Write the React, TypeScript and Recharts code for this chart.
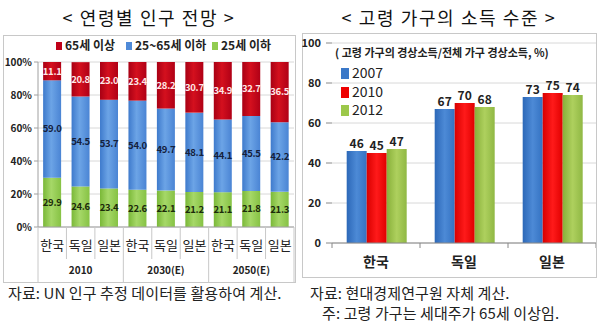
import { BarChart, Bar, XAxis, YAxis, CartesianGrid, Legend, LabelList } from 'recharts';

const FONT = "'Noto Sans CJK KR', 'Noto Sans', sans-serif";

// left: population share by age group (%)
const POP_COUNTRIES = ['한국', '독일', '일본', '한국', '독일', '일본', '한국', '독일', '일본'];
const POP_PERIODS = ['2010', '2010', '2010', '2030(E)', '2030(E)', '2030(E)', '2050(E)', '2050(E)', '2050(E)'];
const POP_UNDER25 = [29.9, 24.6, 23.4, 22.6, 22.1, 21.2, 21.1, 21.8, 21.3];
const POP_25TO65 = [59.0, 54.5, 53.7, 54.0, 49.7, 48.1, 44.1, 45.5, 42.2];
const POP_OVER65 = [11.1, 20.8, 23.0, 23.4, 28.2, 30.7, 34.9, 32.7, 36.5];
const POP_TICKS = [0, 20, 40, 60, 80, 100];

// right: elderly household income vs all households (%)
const INCOME_COUNTRIES = ['한국', '독일', '일본'];
const INCOME_2007 = [46, 67, 73];
const INCOME_2010 = [45, 70, 75];
const INCOME_2012 = [47, 68, 74];
const INCOME_TICKS = [0, 20, 40, 60, 80, 100];

const popData = POP_COUNTRIES.map((c, i) => ({
  country: c,
  period: POP_PERIODS[i],
  young: POP_UNDER25[i],
  middle: POP_25TO65[i],
  old: POP_OVER65[i],
}));

const incomeData = INCOME_COUNTRIES.map((c, i) => ({
  country: c,
  y2007: INCOME_2007[i],
  y2010: INCOME_2010[i],
  y2012: INCOME_2012[i],
}));

const POP_SERIES = [
  { key: 'old', name: '65세 이상', swatch: '#c00018' },
  { key: 'middle', name: '25~65세 이하', swatch: '#4f8ad8' },
  { key: 'young', name: '25세 이하', swatch: '#92cc50' },
];

const INCOME_SERIES = [
  { key: 'y2007', name: '2007', swatch: '#3a78c8' },
  { key: 'y2010', name: '2010', swatch: '#ee0000' },
  { key: 'y2012', name: '2012', swatch: '#9cc84a' },
];

function PopTick(props: any) {
  const { x, y, index, payload } = props;
  const half = payload?.offset ?? 14.2;
  const period = POP_PERIODS[index];
  const start = POP_PERIODS.indexOf(period);
  const end = POP_PERIODS.lastIndexOf(period);
  const isStart = index === start;
  const isLast = index === POP_PERIODS.length - 1;
  const isMid = index === Math.floor((start + end) / 2);
  return (
    <g>
      <line x1={x - half} x2={x - half} y1={y} y2={y + (isStart ? 56 : 32)} stroke="#c8c8c8" />
      {isLast && <line x1={x + half} x2={x + half} y1={y} y2={y + 56} stroke="#c8c8c8" />}
      <text x={x} y={y + 23} textAnchor="middle" fontSize={13} fill="#222" fontFamily={FONT}>
        {POP_COUNTRIES[index]}
      </text>
      {isMid && (
        <text x={x + (end - start) % 2 * half} y={y + 47} textAnchor="middle" fontSize={10} fontWeight="bold" fill="#222" fontFamily={FONT}>
          {period}
        </text>
      )}
    </g>
  );
}

function IncomeTick(props: any) {
  const { x, y, index, payload } = props;
  const half = payload?.offset ?? 44;
  const isLast = index === INCOME_COUNTRIES.length - 1;
  return (
    <g>
      <line x1={x - half} x2={x - half} y1={y} y2={y + 5} stroke="#888" />
      {isLast && <line x1={x + half} x2={x + half} y1={y} y2={y + 5} stroke="#888" />}
      <text x={x} y={y + 24} textAnchor="middle" fontSize={14} fontWeight="bold" fill="#222" fontFamily={FONT}>
        {INCOME_COUNTRIES[index]}
      </text>
    </g>
  );
}

function PopLegend() {
  const lefts = [56, 126, 212];
  return (
    <div style={{ position: 'relative', height: 16, fontFamily: FONT, fontSize: 12, fontWeight: 'bold', color: '#222' }}>
      {POP_SERIES.map((s, i) => (
        <span key={s.key} style={{ position: 'absolute', left: lefts[i], top: 0, whiteSpace: 'nowrap', lineHeight: '16px' }}>
          <span style={{ display: 'inline-block', width: 6, height: 8, background: s.swatch, marginRight: 3, verticalAlign: 0 }} />
          {s.name}
        </span>
      ))}
    </div>
  );
}

function IncomeLegend() {
  return (
    <div style={{ fontFamily: FONT, color: '#222', textAlign: 'left' }}>
      <div style={{ fontSize: 11, fontWeight: 'bold', lineHeight: '16px', marginBottom: 3 }}>
        ( 고령 가구의 경상소득/전체 가구 경상소득, %)
      </div>
      {INCOME_SERIES.map((s) => (
        <div key={s.key} style={{ fontSize: 14, lineHeight: '18.5px', paddingLeft: 6 }}>
          <span style={{ display: 'inline-block', width: 8, height: 11, background: s.swatch, marginRight: 3, verticalAlign: -1 }} />
          {s.name}
        </div>
      ))}
    </div>
  );
}

export default function App() {
  const labelOne = (v: any) => Number(v).toFixed(1);
  const popLabel = { fontSize: 9.5, fontWeight: 'bold', fontFamily: FONT, letterSpacing: -0.3 };
  return (
    <div style={{ position: 'absolute', left: 0, top: 0, width: 600, height: 325, background: '#fff', fontFamily: FONT }}>
      <svg width={0} height={0} style={{ position: 'absolute' }}>
        <defs>
          <linearGradient id="gRedL" x1="0" y1="0" x2="1" y2="0">
            <stop offset="0%" stopColor="#a80014" />
            <stop offset="45%" stopColor="#d4101e" />
            <stop offset="100%" stopColor="#b00016" />
          </linearGradient>
          <linearGradient id="gBlueL" x1="0" y1="0" x2="1" y2="0">
            <stop offset="0%" stopColor="#3e7acc" />
            <stop offset="45%" stopColor="#6ca4e6" />
            <stop offset="100%" stopColor="#4a84d4" />
          </linearGradient>
          <linearGradient id="gGreenL" x1="0" y1="0" x2="1" y2="0">
            <stop offset="0%" stopColor="#7ab838" />
            <stop offset="45%" stopColor="#a6d868" />
            <stop offset="100%" stopColor="#86c244" />
          </linearGradient>
          <linearGradient id="gBlueR" x1="0" y1="0" x2="1" y2="0">
            <stop offset="0%" stopColor="#2c68b8" />
            <stop offset="50%" stopColor="#4d8ad6" />
            <stop offset="100%" stopColor="#3472c2" />
          </linearGradient>
          <linearGradient id="gRedR" x1="0" y1="0" x2="1" y2="0">
            <stop offset="0%" stopColor="#d80000" />
            <stop offset="50%" stopColor="#ff1a1a" />
            <stop offset="100%" stopColor="#e00000" />
          </linearGradient>
          <linearGradient id="gGreenR" x1="0" y1="0" x2="1" y2="0">
            <stop offset="0%" stopColor="#88b03a" />
            <stop offset="50%" stopColor="#aed05e" />
            <stop offset="100%" stopColor="#90b844" />
          </linearGradient>
        </defs>
      </svg>

      {/* titles */}
      <div style={{ position: 'absolute', left: 0, top: 4, width: 298, textAlign: 'center', fontSize: 18, color: '#111', letterSpacing: 1.6 }}>
        {'< 연령별 인구 전망 >'}
      </div>
      <div style={{ position: 'absolute', left: 300, top: 4, width: 298, textAlign: 'center', fontSize: 18, color: '#111', letterSpacing: 1.6 }}>
        {'< 고령 가구의 소득 수준 >'}
      </div>

      {/* panel frames */}
      <div style={{ position: 'absolute', left: 3, top: 35, width: 291, height: 246, border: '1px solid #c8c8c8' }} />
      <div style={{ position: 'absolute', left: 302, top: 33, width: 293, height: 243, border: '1px solid #c8c8c8' }} />

      {/* left chart */}
      <div style={{ position: 'absolute', left: 0, top: 35 }}>
        <BarChart width={296} height={248} data={popData} margin={{ top: 27, right: 2, bottom: 0, left: 0 }} barCategoryGap="18%">
          <CartesianGrid vertical={false} stroke="#d8d8d8" />
          <XAxis
            dataKey="country"
            interval={0}
            height={56}
            tickLine={false}
            tickSize={0}
            tickMargin={0}
            axisLine={{ stroke: '#a0a0a0' }}
            tick={<PopTick />}
          />
          <YAxis
            width={38}
            domain={[0, 100]}
            ticks={POP_TICKS}
            allowDataOverflow
            tickFormatter={(v: number) => `${v}%`}
            tick={{ fontSize: 10, fontWeight: 'bold', fill: '#222', fontFamily: FONT }}
            tickSize={4}
            tickMargin={2}
            tickLine={{ stroke: '#a0a0a0' }}
            axisLine={{ stroke: '#a0a0a0' }}
          />
          <Legend
            layout="horizontal"
            verticalAlign="middle"
            align="center"
            wrapperStyle={{ top: 2, left: 0, width: 296 }}
            content={<PopLegend />}
          />
          <Bar dataKey="young" stackId="pop" fill="url(#gGreenL)" isAnimationActive={false}>
            <LabelList dataKey="young" position="center" formatter={labelOne} fill="#1c2a0a" {...popLabel} />
          </Bar>
          <Bar dataKey="middle" stackId="pop" fill="url(#gBlueL)" isAnimationActive={false}>
            <LabelList dataKey="middle" position="center" formatter={labelOne} fill="#14203c" {...popLabel} />
          </Bar>
          <Bar dataKey="old" stackId="pop" fill="url(#gRedL)" isAnimationActive={false}>
            <LabelList dataKey="old" position="center" formatter={labelOne} fill="#ffe8e8" {...popLabel} />
          </Bar>
        </BarChart>
      </div>

      {/* right chart */}
      <div style={{ position: 'absolute', left: 302, top: 33 }}>
        <BarChart width={294} height={244} data={incomeData} margin={{ top: 10, right: 0, bottom: 0, left: 0 }} barCategoryGap="16.7%" barGap={0}>
          <CartesianGrid vertical={false} stroke="#d8d8d8" />
          <XAxis
            dataKey="country"
            interval={0}
            height={34}
            tickLine={false}
            tickSize={0}
            tickMargin={0}
            axisLine={{ stroke: '#888' }}
            tick={<IncomeTick />}
          />
          <YAxis
            width={30}
            domain={[0, 100]}
            ticks={INCOME_TICKS}
            allowDataOverflow
            axisLine={false}
            tickSize={6}
            tickMargin={5}
            tickLine={{ stroke: '#888' }}
            tick={{ fontSize: 11, fontWeight: 'bold', fill: '#222', fontFamily: FONT }}
          />
          <Legend
            layout="horizontal"
            verticalAlign="middle"
            align="center"
            wrapperStyle={{ top: 11, left: 33, width: 260 }}
            content={<IncomeLegend />}
          />
          <Bar dataKey="y2007" fill="url(#gBlueR)" isAnimationActive={false}>
            <LabelList dataKey="y2007" position="top" offset={3} fill="#222" fontSize={12} fontWeight="bold" fontFamily={FONT} />
          </Bar>
          <Bar dataKey="y2010" fill="url(#gRedR)" isAnimationActive={false}>
            <LabelList dataKey="y2010" position="top" offset={3} fill="#222" fontSize={12} fontWeight="bold" fontFamily={FONT} />
          </Bar>
          <Bar dataKey="y2012" fill="url(#gGreenR)" isAnimationActive={false}>
            <LabelList dataKey="y2012" position="top" offset={3} fill="#222" fontSize={12} fontWeight="bold" fontFamily={FONT} />
          </Bar>
        </BarChart>
      </div>

      {/* sources */}
      <div style={{ position: 'absolute', left: 8, top: 282, fontSize: 15, color: '#222', letterSpacing: 0.1, whiteSpace: 'nowrap' }}>
        자료: UN 인구 추정 데이터를 활용하여 계산.
      </div>
      <div style={{ position: 'absolute', left: 310, top: 282, fontSize: 15, color: '#222', letterSpacing: 0.1, whiteSpace: 'nowrap' }}>
        자료: 현대경제연구원 자체 계산.
      </div>
      <div style={{ position: 'absolute', left: 322, top: 302, fontSize: 15, color: '#222', letterSpacing: 0.1, whiteSpace: 'nowrap' }}>
        주: 고령 가구는 세대주가 65세 이상임.
      </div>
    </div>
  );
}
